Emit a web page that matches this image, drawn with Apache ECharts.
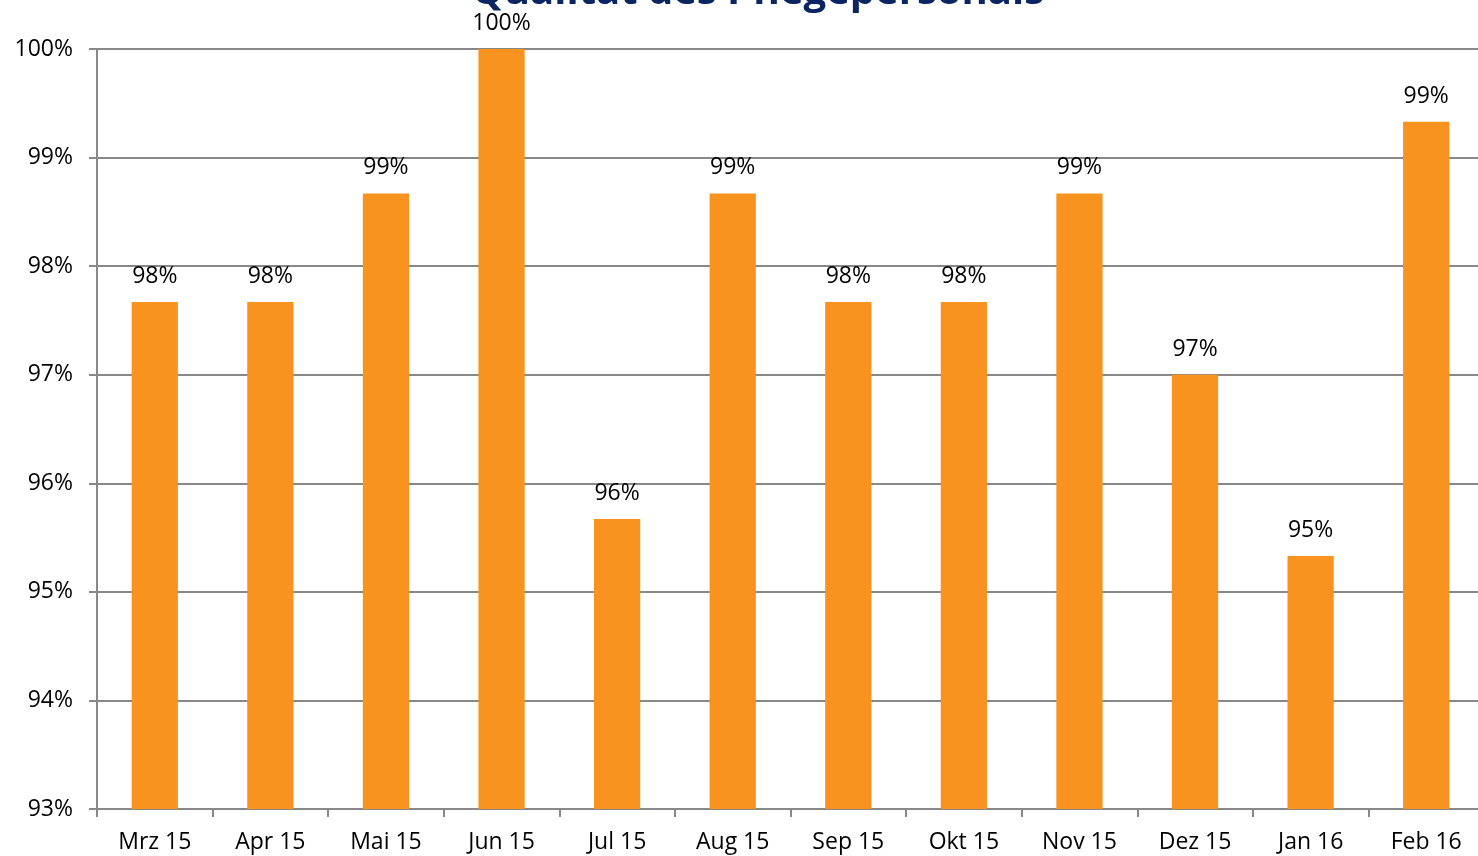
<!DOCTYPE html>
<html>
<head>
<meta charset="utf-8">
<script src="https://cdn.jsdelivr.net/npm/echarts@6/dist/echarts.min.js"></script>
<style>
  html, body { margin: 0; padding: 0; background: #fff; overflow: hidden; }
  /* etwas breiter als das Fenster: die Plotfläche läuft rechts über den Rand */
  #main { width: 1484px; height: 856px; }
</style>
</head>
<body>
<div id="main"></div>
<script>
// Monate und Anteile (in Prozent)
var months = ["Mrz 15", "Apr 15", "Mai 15", "Jun 15", "Jul 15", "Aug 15",
  "Sep 15", "Okt 15", "Nov 15", "Dez 15", "Jan 16", "Feb 16"];
var quality = [97.67, 97.67, 98.67, 100, 95.67, 98.67, 97.67, 97.67, 98.67, 97.0, 95.33, 99.33];
var yTicks = [93, 94, 95, 96, 97, 98, 99, 100];

var FONT = "'Open Sans', 'Noto Sans', sans-serif";

var chart = echarts.init(document.getElementById("main"));
var option = {
  animation: false,
  title: {
    text: "Qualität des Pflegepersonals",
    left: 753,
    textAlign: "center",
    top: -32,
    textStyle: { color: "#0A2561", fontSize: 40, fontWeight: "bold", fontFamily: FONT }
  },
  grid: { left: 97, right: 0, top: 49, bottom: 47, containLabel: false },
  xAxis: {
    type: "category",
    data: months,
    axisLine: { lineStyle: { color: "#888", width: 2 } },
    axisTick: { show: true, length: 8, lineStyle: { color: "#888", width: 2 } },
    axisLabel: { color: "#000", fontSize: 23, fontFamily: FONT, margin: 22 },
    splitLine: { show: false }
  },
  yAxis: {
    type: "value",
    min: yTicks[0],
    max: yTicks[yTicks.length - 1],
    interval: 1,
    axisLine: { show: true, lineStyle: { color: "#888", width: 2 } },
    axisTick: { show: true, length: 8, lineStyle: { color: "#888", width: 2 } },
    axisLabel: { color: "#000", fontSize: 23, fontFamily: FONT, margin: 24,
      formatter: function (v) { return v + "%"; } },
    splitLine: { lineStyle: { color: "#888", width: 2 } }
  },
  series: [{
    type: "bar",
    data: quality,
    barWidth: "40%",
    itemStyle: { color: "#F7931E" },
    label: {
      show: true,
      position: "top",
      distance: 14,
      color: "#000",
      fontSize: 23,
      fontFamily: FONT,
      formatter: function (p) { return Math.round(p.value) + "%"; }
    }
  }]
};
chart.setOption(option);
</script>
</body>
</html>
